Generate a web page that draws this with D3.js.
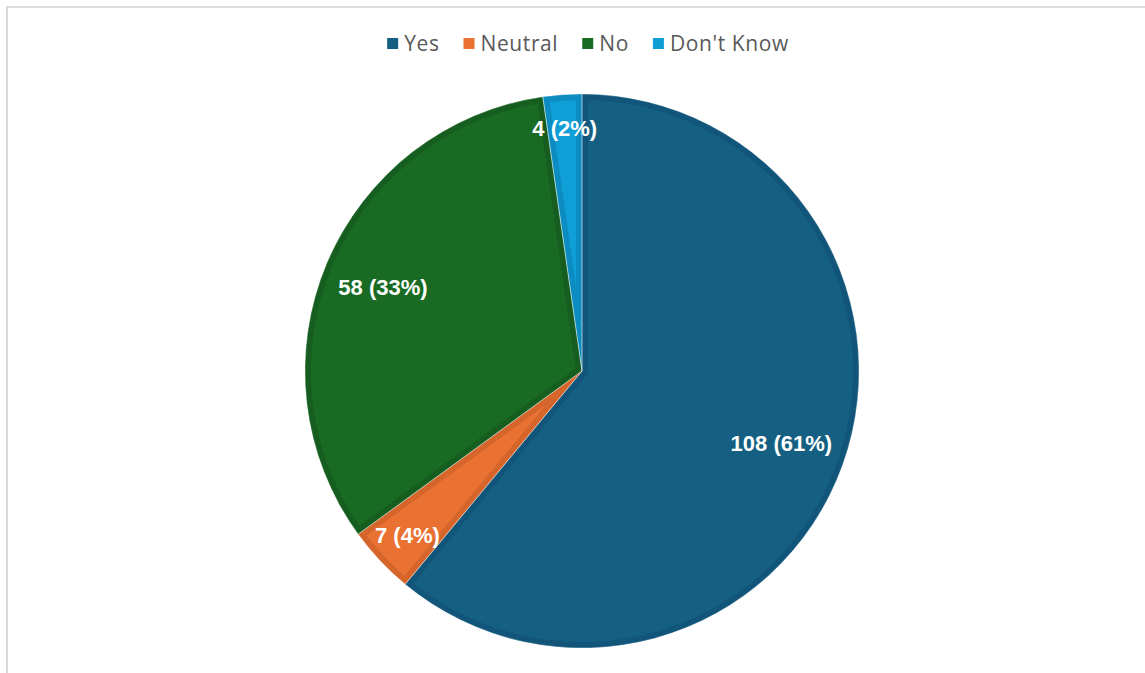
<!DOCTYPE html>
<html>
<head>
<meta charset="utf-8">
<script src="https://d3js.org/d3.v7.min.js"></script>
<style>
  body { margin: 0; background: #fff; }
  svg { display: block; }
</style>
</head>
<body>
<svg id="chart" width="1145" height="673"></svg>
<script>
// data
var categories = ["Yes", "Neutral", "No", "Don't Know"];
var counts = [108, 7, 58, 4];
var colors = ["#156082", "#e97132", "#196b24", "#0f9ed5"];
var edgeColors = ["#11557a", "#d6652b", "#155e1f", "#0c8cc0"];
// how far out each label sits, as a share of the radius
var labelPos = [0.765, 0.865, 0.78, 0.88];

var svg = d3.select("#chart");
var width = +svg.attr("width"),
    height = +svg.attr("height");

var cx = 582, cy = 371, radius = 277;

// frame lines (top and left only are visible)
svg.append("line").attr("x1", 6).attr("x2", width).attr("y1", 7).attr("y2", 7)
    .attr("stroke", "#dcdcdc").attr("stroke-width", 2);
svg.append("line").attr("x1", 7).attr("x2", 7).attr("y1", 6).attr("y2", height)
    .attr("stroke", "#d9d9d9").attr("stroke-width", 2);

var total = d3.sum(counts);
var slices = categories.map(function(c, i) {
  return {name: c, value: counts[i], idx: i};
});

var pie = d3.pie().value(function(d) { return d.value; }).sort(null);
var arc = d3.arc().innerRadius(0).outerRadius(radius);
var arcs = pie(slices);

var g = svg.append("g").attr("transform", "translate(" + cx + "," + cy + ")");
var defs = svg.append("defs");

arcs.forEach(function(a, i) {
  defs.append("clipPath").attr("id", "clip" + i)
    .append("path").attr("d", arc(a));
});

g.selectAll(".slice")
  .data(arcs)
  .enter()
  .append("path")
    .attr("class", "slice")
    .attr("d", arc)
    .attr("fill", function(d) { return colors[d.data.idx]; })
    .attr("stroke", function(d) { return edgeColors[d.data.idx]; })
    .attr("stroke-width", 12)
    .attr("stroke-linejoin", "round")
    .attr("clip-path", function(d, i) { return "url(#clip" + i + ")"; });

// thin light seams between slices
g.selectAll(".seam")
  .data(arcs)
  .enter()
  .append("path")
    .attr("class", "seam")
    .attr("d", arc)
    .attr("fill", "none")
    .attr("stroke", "#ffffff")
    .attr("stroke-opacity", 0.35)
    .attr("stroke-width", 1);

// labels
g.selectAll(".lbl")
  .data(arcs)
  .enter()
  .append("text")
    .attr("class", "lbl")
    .attr("transform", function(d) {
      var r = radius * labelPos[d.data.idx];
      var c = d3.arc().innerRadius(r).outerRadius(r).centroid(d);
      return "translate(" + c[0] + "," + c[1] + ")";
    })
    .attr("text-anchor", "middle")
    .attr("dy", "0.36em")
    .style("font-family", "'Liberation Sans', Arial, sans-serif")
    .style("font-weight", "bold")
    .style("font-size", "22px")
    .style("fill", "#ffffff")
    .text(function(d) {
      return d.data.value + " (" + Math.round(d.data.value / total * 100) + "%)";
    });

// legend
var legend = svg.append("g").attr("class", "legend");
var items = legend.selectAll(".item")
  .data(categories)
  .enter()
  .append("g")
    .attr("class", "item");

items.append("rect")
  .attr("width", 11)
  .attr("height", 11)
  .attr("y", -13)
  .attr("fill", function(d, i) { return colors[i]; });

items.append("text")
  .attr("x", 17)
  .style("font-family", "'Open Sans', sans-serif")
  .style("font-size", "21px")
  .style("letter-spacing", "0.6px")
  .style("fill", "#595959")
  .text(function(d) { return d; });

var xPos = 0;
items.each(function() {
  var item = d3.select(this);
  var w = item.select("text").node().getComputedTextLength();
  item.attr("transform", "translate(" + xPos + ",0)");
  xPos += 17 + w + 24;
});
var legendWidth = xPos - 24;
legend.attr("transform", "translate(" + (588 - legendWidth / 2) + ",51)");
</script>
</body>
</html>
